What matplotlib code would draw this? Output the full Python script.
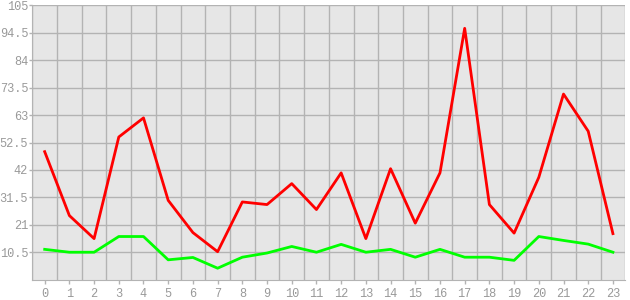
import matplotlib
matplotlib.use('Agg')
import matplotlib.pyplot as plt
import numpy as np

# Datos
horas = list(range(24))
serie_roja = [49.0, 24.6, 15.8, 54.6, 61.9, 30.4, 18.1, 10.8, 29.8, 28.8, 36.8, 26.9,
              40.9, 15.8, 42.5, 21.7, 40.9, 96.1, 28.8, 17.9, 39.2, 71.0, 56.8, 17.7]
serie_verde = [11.7, 10.6, 10.6, 16.6, 16.6, 7.7, 8.6, 4.5, 8.7, 10.3, 12.8, 10.6,
               13.6, 10.6, 11.7, 8.7, 11.7, 8.7, 8.7, 7.5, 16.6, 15.1, 13.7, 10.6]
y_ticks = [10.5, 21, 31.5, 42, 52.5, 63, 73.5, 84, 94.5, 105]

gris = '#b3b3b3'
texto = '#999999'

fig = plt.figure(figsize=(6.3, 3.0), dpi=100)
ax = fig.add_axes([0.0513, 0.0667, 0.9412, 0.9166])
ax.set_facecolor('#e6e6e6')

ax.plot(horas, serie_roja, color='#ff0000', lw=2, zorder=3)
ax.plot(horas, serie_verde, color='#00ff00', lw=2, zorder=3)

ax.set_xlim(-0.5, 23.5)
ax.set_ylim(0, 105)

# rejilla vertical en los bordes de cada categoria
ax.set_xticks(horas)
ax.set_xticks(np.arange(-0.5, 24, 1), minor=True)
ax.set_yticks(y_ticks)
ax.set_yticklabels([f'{v:g}' for v in y_ticks])
ax.grid(True, which='minor', axis='x', color=gris, lw=1)
ax.grid(True, which='major', axis='y', color=gris, lw=1)
ax.tick_params(axis='x', which='minor', length=0)
ax.tick_params(axis='both', which='major', colors=gris, labelcolor=texto,
               length=3, width=1, labelsize=8.6)
ax.tick_params(axis='y', pad=0.5, length=2.5)
ax.tick_params(axis='x', pad=3)
for lbl in ax.get_xticklabels() + ax.get_yticklabels():
    lbl.set_family('Liberation Mono')

for lado in ['top', 'right']:
    ax.spines[lado].set_visible(False)
for lado in ['left', 'bottom']:
    ax.spines[lado].set_color(gris)

fig.savefig('out.png', dpi=100)
